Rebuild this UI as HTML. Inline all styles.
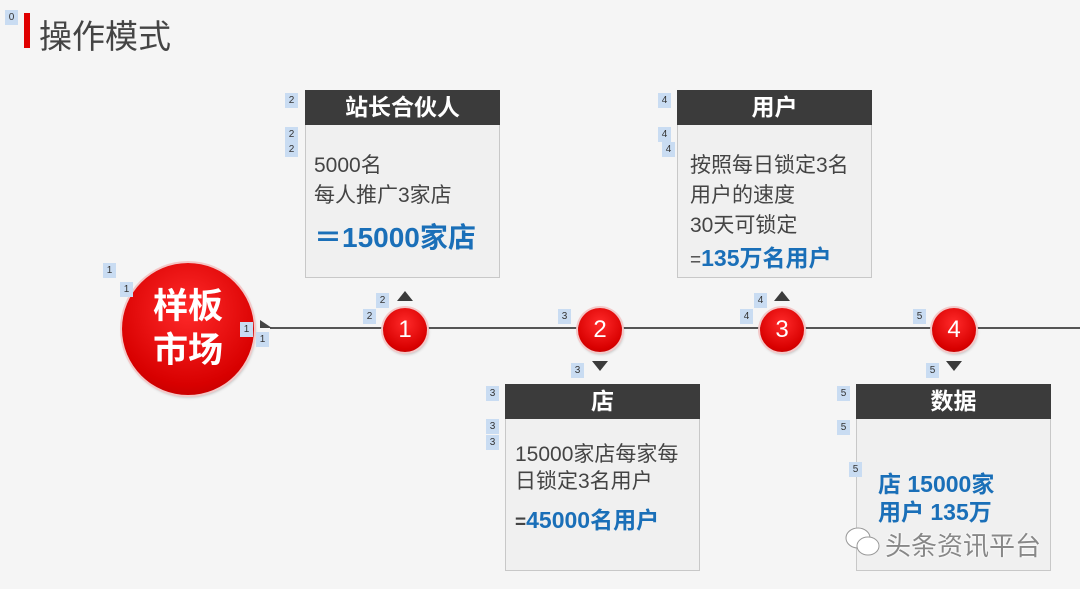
<!DOCTYPE html>
<html><head><meta charset="utf-8"><style>
body{margin:0;width:1080px;height:589px;background:#f5f5f5;position:relative;overflow:hidden;font-family:"Liberation Sans","Noto Sans CJK SC",sans-serif}
.a{position:absolute}
.lb{position:absolute;width:13px;height:15px;background:#c9dcf2;font-size:10px;color:#333;text-align:center;line-height:15px}
.hd{position:absolute;background:#3b3b3b;color:#fff;font-weight:bold;font-size:23px;text-align:center;line-height:35px;height:35px}
.bd{position:absolute;background:#f0f0f0;border:1px solid #c8c8c8;box-sizing:border-box}
.t{position:absolute;font-size:21px;color:#444;white-space:nowrap}
.b{position:absolute;font-weight:bold;color:#1a6fb8;white-space:nowrap}
.c{position:absolute;border-radius:50%;background:radial-gradient(circle at 50% 35%,#ff2a2a,#d80000 70%,#b00000);box-shadow:0 0 0 2px #f3c8c8,1px 2px 3px rgba(0,0,0,.3);color:#fff;text-align:center}
.up{position:absolute;width:0;height:0;border-left:8px solid transparent;border-right:8px solid transparent;border-bottom:10px solid #3b3b3b}
.dn{position:absolute;width:0;height:0;border-left:8px solid transparent;border-right:8px solid transparent;border-top:10px solid #3b3b3b}
</style></head><body>
<div class="lb" style="left:5px;top:10px">0</div>
<div class="a" style="left:24px;top:13px;width:6px;height:35px;background:#e00000"></div>
<div class="a" style="left:39px;top:10px;font-size:33px;color:#444">操作模式</div>

<div class="a" style="left:270px;top:327px;width:810px;height:2px;background:#555"></div>
<div class="a" style="left:260px;top:320px;width:0;height:0;border-top:8px solid transparent;border-left:12px solid #444"></div>

<div class="c" style="left:122px;top:263px;width:132px;height:132px;font-size:35px;font-weight:bold;line-height:44px;padding-top:22px;box-sizing:border-box">样板<br>市场</div>
<div class="c" style="left:383px;top:308px;width:44px;height:44px;font-size:24px;line-height:44px">1</div>
<div class="c" style="left:578px;top:308px;width:44px;height:44px;font-size:24px;line-height:44px">2</div>
<div class="c" style="left:760px;top:308px;width:44px;height:44px;font-size:24px;line-height:44px">3</div>
<div class="c" style="left:932px;top:308px;width:44px;height:44px;font-size:24px;line-height:44px">4</div>
<div class="up" style="left:397px;top:291px"></div>
<div class="dn" style="left:592px;top:361px"></div>
<div class="up" style="left:774px;top:291px"></div>
<div class="dn" style="left:946px;top:361px"></div>

<div class="bd" style="left:305px;top:124px;width:195px;height:154px"></div>
<div class="hd" style="left:305px;top:90px;width:195px">站长合伙人</div>
<div class="t" style="left:314px;top:149px">5000名</div>
<div class="t" style="left:314px;top:179px">每人推广3家店</div>
<div class="b" style="left:314px;top:216px;font-size:28px">＝15000家店</div>

<div class="bd" style="left:677px;top:124px;width:195px;height:154px"></div>
<div class="hd" style="left:677px;top:90px;width:195px">用户</div>
<div class="t" style="left:690px;top:149px">按照每日锁定3名</div>
<div class="t" style="left:690px;top:179px">用户的速度</div>
<div class="t" style="left:690px;top:209px">30天可锁定</div>
<div class="b" style="left:690px;top:239px;font-size:23px"><span style="color:#444;font-weight:normal;font-size:19px">=</span>135万名用户</div>

<div class="bd" style="left:505px;top:418px;width:195px;height:153px"></div>
<div class="hd" style="left:505px;top:384px;width:195px">店</div>
<div class="t" style="left:515px;top:438px">15000家店每家每</div>
<div class="t" style="left:515px;top:465px">日锁定3名用户</div>
<div class="b" style="left:515px;top:501px;font-size:23px"><span style="color:#444;font-size:19px">=</span>45000名用户</div>

<div class="bd" style="left:856px;top:418px;width:195px;height:153px"></div>
<div class="hd" style="left:856px;top:384px;width:195px">数据</div>
<div class="b" style="left:878px;top:465px;font-size:23px">店 15000家</div>
<div class="b" style="left:878px;top:493px;font-size:23px">用户 135万</div>

<svg class="a" style="left:843px;top:524px" width="40" height="36"><ellipse cx="15" cy="14" rx="12" ry="10" fill="#fff" stroke="#999"/><ellipse cx="25" cy="22" rx="11" ry="9" fill="#fff" stroke="#999"/></svg>
<div class="a" style="left:885px;top:526px;font-size:26px;color:#888;text-shadow:0 0 2px #fff,0 0 2px #fff">头条资讯平台</div>

<div class="lb" style="left:285px;top:93px">2</div>
<div class="lb" style="left:285px;top:127px">2</div>
<div class="lb" style="left:285px;top:142px">2</div>
<div class="lb" style="left:658px;top:93px">4</div>
<div class="lb" style="left:658px;top:127px">4</div>
<div class="lb" style="left:662px;top:142px">4</div>
<div class="lb" style="left:103px;top:263px">1</div>
<div class="lb" style="left:120px;top:282px">1</div>
<div class="lb" style="left:240px;top:322px">1</div>
<div class="lb" style="left:256px;top:332px">1</div>
<div class="lb" style="left:376px;top:293px">2</div>
<div class="lb" style="left:363px;top:309px">2</div>
<div class="lb" style="left:558px;top:309px">3</div>
<div class="lb" style="left:571px;top:363px">3</div>
<div class="lb" style="left:754px;top:293px">4</div>
<div class="lb" style="left:740px;top:309px">4</div>
<div class="lb" style="left:913px;top:309px">5</div>
<div class="lb" style="left:926px;top:363px">5</div>
<div class="lb" style="left:486px;top:386px">3</div>
<div class="lb" style="left:486px;top:419px">3</div>
<div class="lb" style="left:486px;top:435px">3</div>
<div class="lb" style="left:837px;top:386px">5</div>
<div class="lb" style="left:837px;top:420px">5</div>
<div class="lb" style="left:849px;top:462px">5</div>
</body></html>
